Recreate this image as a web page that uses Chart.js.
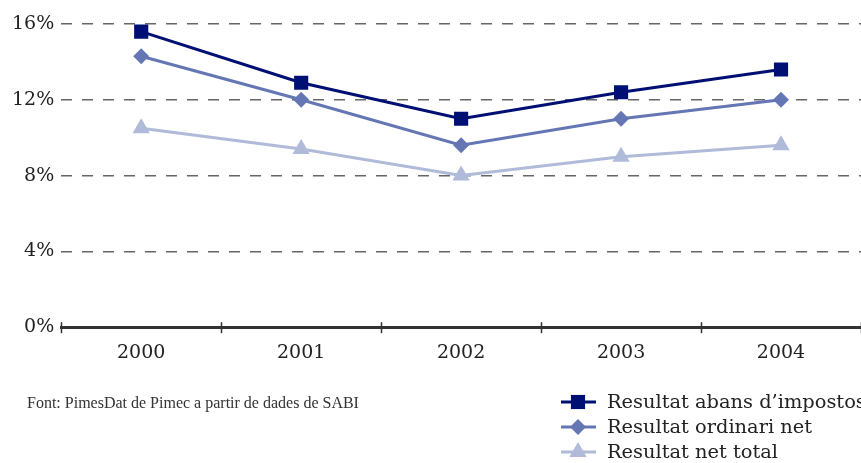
<!DOCTYPE html>
<html>
<head>
<meta charset="utf-8">
<script src="https://cdn.jsdelivr.net/npm/chart.js@4/dist/chart.umd.min.js"></script>
<style>
html,body{margin:0;padding:0;background:#fff;overflow:hidden;}
#wrap{width:861px;height:463px;position:relative;overflow:hidden;}
</style>
</head>
<body>
<div id="wrap"><canvas id="c" width="871" height="463"></canvas></div>
<script>
const categories = ['2000', '2001', '2002', '2003', '2004'];
const seriesNames = ['Resultat abans d\u2019impostos', 'Resultat ordinari net', 'Resultat net total'];
const abansImpostos = [15.6, 12.9, 11.0, 12.4, 13.6];
const ordinariNet = [14.3, 12.0, 9.6, 11.0, 12.0];
const netTotal = [10.5, 9.4, 8.0, 9.0, 9.6];
const yTicks = [0, 4, 8, 12, 16];
const sourceText = 'Font: PimesDat de Pimec a partir de dades de SABI';

const colors = ['#000f73', '#6576b4', '#b0bad9'];
const styles = ['rect', 'rectRot', 'triangle'];
const radii = [10, 8, 10];

function drawMarker(ctx, style, r, x, y) {
  ctx.beginPath();
  if (style === 'rect') {
    const s = Math.SQRT1_2 * r;
    ctx.rect(x - s, y - s, 2 * s, 2 * s);
  } else if (style === 'rectRot') {
    ctx.moveTo(x, y - r); ctx.lineTo(x + r, y); ctx.lineTo(x, y + r); ctx.lineTo(x - r, y);
  } else {
    ctx.moveTo(x, y - r);
    ctx.lineTo(x + r * Math.sqrt(3) / 2, y + r / 2);
    ctx.lineTo(x - r * Math.sqrt(3) / 2, y + r / 2);
  }
  ctx.closePath();
  ctx.fill();
}

const extras = {
  id: 'extras',
  afterDraw(chart) {
    const ctx = chart.ctx;
    const xs = chart.scales.x;
    const area = chart.chartArea;
    ctx.save();
    ctx.strokeStyle = '#333';
    ctx.lineWidth = 1.5;
    const n = categories.length;
    const step = xs.getPixelForValue(1) - xs.getPixelForValue(0);
    for (let i = 0; i <= n; i++) {
      const px = xs.getPixelForValue(0) - step / 2 + i * step;
      const xx = Math.round(px) + 0.5;
      ctx.beginPath();
      ctx.moveTo(xx, area.bottom - 5);
      ctx.lineTo(xx, area.bottom + 6);
      ctx.stroke();
    }
    chart.data.datasets.forEach((ds, i) => {
      const y = 402 + 25 * i;
      ctx.strokeStyle = ds.borderColor;
      ctx.fillStyle = ds.borderColor;
      ctx.lineWidth = 3;
      ctx.beginPath();
      ctx.moveTo(561, y);
      ctx.lineTo(596, y);
      ctx.stroke();
      drawMarker(ctx, ds.pointStyle, ds.pointRadius, 578, y);
      ctx.fillStyle = '#222';
      ctx.font = '19.4px "DejaVu Serif"';
      ctx.textBaseline = 'middle';
      ctx.textAlign = 'left';
      ctx.fillText(ds.label, 607, y + 1);
    });
    ctx.fillStyle = '#333';
    ctx.font = '16px "Liberation Serif"';
    ctx.textBaseline = 'middle';
    ctx.fillText(sourceText, 27, 404);
    ctx.restore();
  }
};

const seriesData = [abansImpostos, ordinariNet, netTotal];
new Chart(document.getElementById('c'), {
  type: 'line',
  data: {
    labels: categories,
    datasets: seriesData.map((d, i) => ({
      label: seriesNames[i],
      data: d,
      borderColor: colors[i],
      backgroundColor: colors[i],
      pointBackgroundColor: colors[i],
      pointBorderWidth: 0,
      borderWidth: 3,
      pointStyle: styles[i],
      pointRadius: radii[i],
      pointHoverRadius: radii[i],
      tension: 0
    }))
  },
  options: {
    responsive: false,
    devicePixelRatio: 1,
    animation: false,
    layout: { padding: { top: 24, left: 5, right: 0, bottom: 93 } },
    plugins: { legend: { display: false }, tooltip: { enabled: false } },
    scales: {
      x: {
        offset: true,
        grid: { display: false, offset: true },
        border: { display: true, color: '#333', width: 3 },
        ticks: { color: '#222', font: { family: 'DejaVu Serif', size: 19 }, padding: 6 }
      },
      y: {
        min: 0, max: 16,
        afterBuildTicks(scale) { scale.ticks = yTicks.map(v => ({ value: v })); },
        grid: { color: '#666', lineWidth: 1.5, drawTicks: false },
        border: { display: false, dash: [11, 10] },
        ticks: { color: '#222', font: { family: 'DejaVu Serif', size: 19 }, padding: 7, callback: v => v + '%' }
      }
    }
  },
  plugins: [extras]
});
</script>
</body>
</html>
